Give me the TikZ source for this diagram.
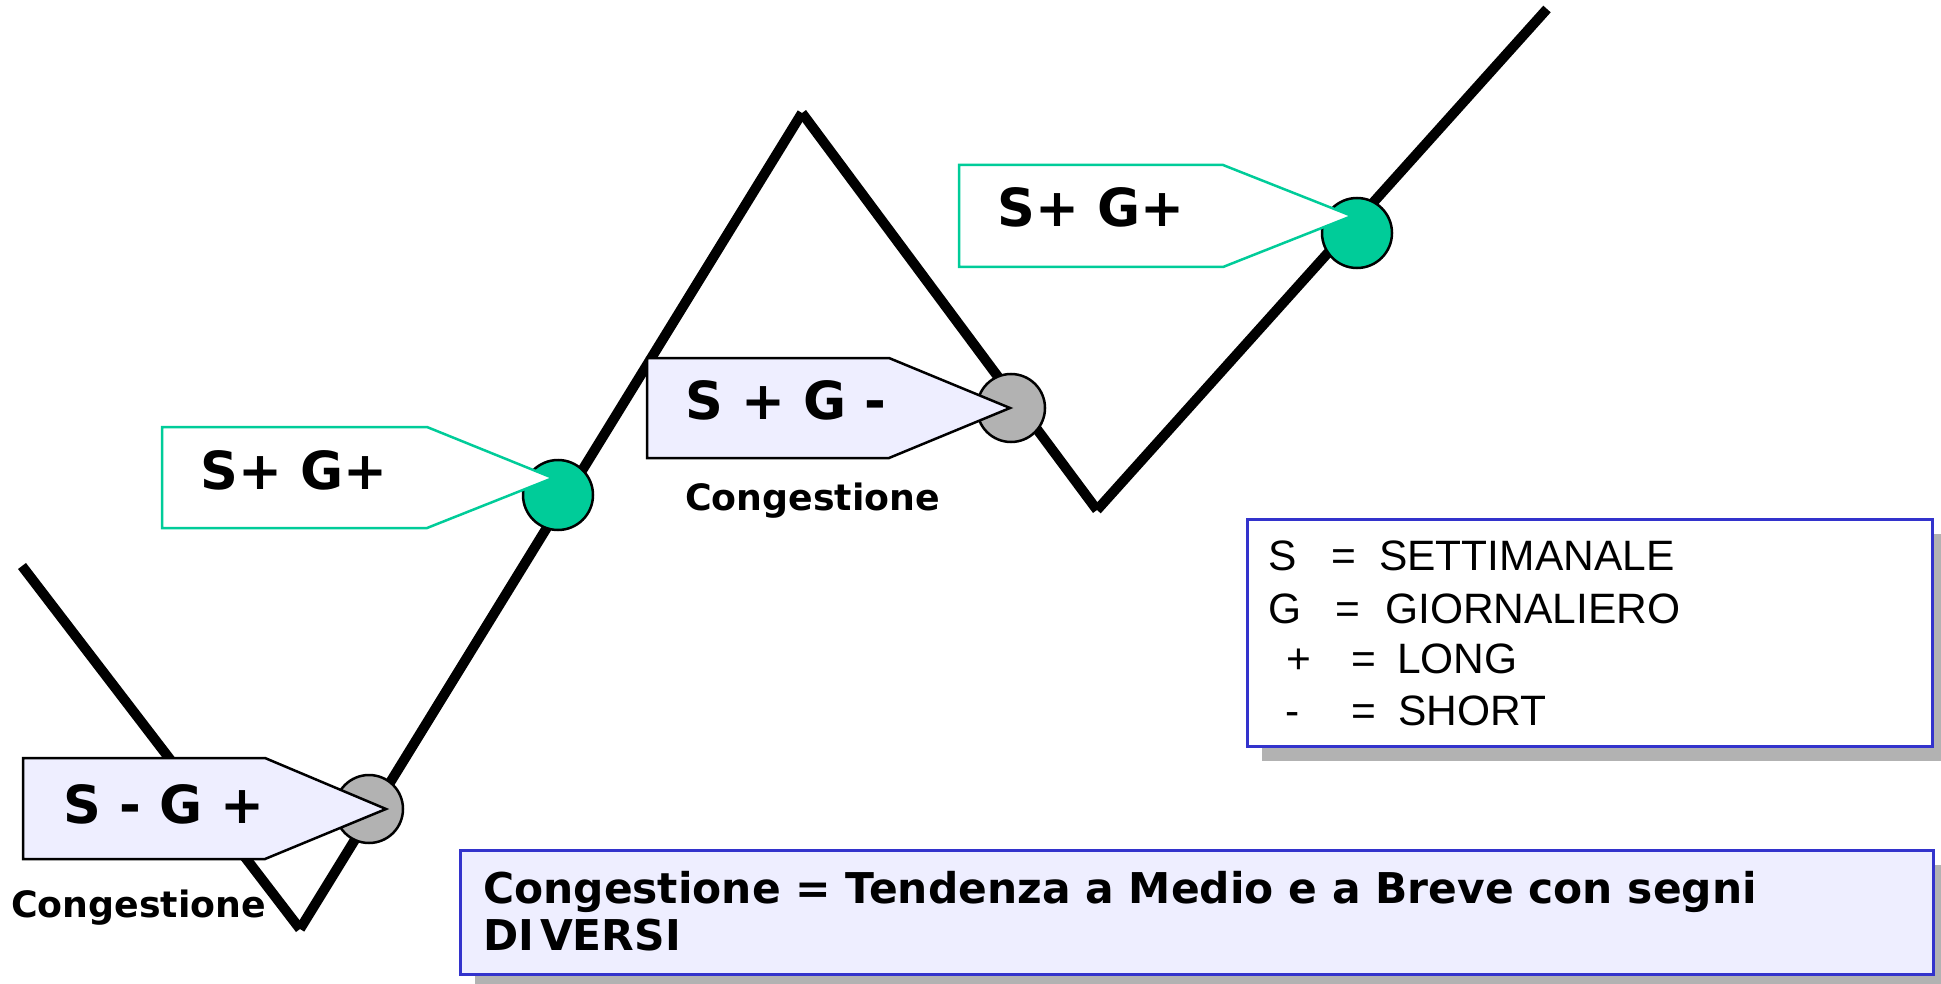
\documentclass[tikz,border=0pt]{standalone}
\usepackage{fontspec}
\setmainfont{Liberation Sans}
\newfontfamily\verdfont{DejaVu Sans}
\usepackage{xcolor}
\usepackage{tikz}
\usetikzlibrary{shadows,positioning}

\definecolor{markgreen}{RGB}{0,204,153}
\definecolor{markgray}{RGB}{178,178,178}
\definecolor{palelilac}{RGB}{238,238,255}
\definecolor{noteblue}{RGB}{51,51,204}

\begin{document}
\begin{tikzpicture}[x=1pt, y=-1pt,
    trend/.style={line width=10pt},
    dotgray/.style={circle, draw, line width=2.5pt, fill=markgray, minimum size=68pt, inner sep=0pt},
    dotgreen/.style={dotgray, fill=markgreen, minimum size=70pt},
    tagpale/.style={draw, line width=2.5pt, fill=palelilac},
    taggreen/.style={draw=markgreen, line width=2.5pt, fill=white},
    tagtext/.style={font=\verdfont\bfseries\fontsize{52.5}{60}\selectfont, inner sep=0pt, anchor=base west},
    congest/.style={font=\verdfont\bfseries\fontsize{36.3}{42}\selectfont, inner sep=0pt, anchor=base west},
    notebox/.style={draw=noteblue, line width=2.5pt, inner sep=0pt, anchor=north west,
        drop shadow={shadow xshift=15pt, shadow yshift=-15pt, fill=markgray, opacity=1}},
    legendtxt/.style={font=\fontsize{42.5}{50}\selectfont, inner sep=0pt, anchor=base west},
    notetxt/.style={font=\verdfont\bfseries\fontsize{42.4}{50}\selectfont, inner sep=0pt, anchor=base west}
]
    \useasboundingbox (0,0) rectangle (1941,984);

    % price path
    \coordinate (p1) at (22,566);
    \coordinate (p2) at (300,929);
    \coordinate (p3) at (802,113);
    \coordinate (p4) at (1097,510);
    \coordinate (p5) at (1547,9);
    \foreach \a/\b in {p1/p2,p2/p3,p3/p4,p4/p5}
        \draw[trend] (\a) -- (\b);

    % congestion points
    \node[dotgray] (dot1) at (369,809) {};
    \node[dotgray] (dot2) at (1011,408) {};
    \draw[tagpale] (23,758) -- (265,758) -- (386,809) -- (265,859) -- (23,859) -- cycle;
    \draw[tagpale] (647,358) -- (889,358) -- (1010,408) -- (889,458) -- (647,458) -- cycle;

    % trend points
    \node[dotgreen] (dot3) at (558,495) {};
    \node[dotgreen] (dot4) at (1357,233) {};
    \draw[taggreen] (162,427) -- (427,427) -- (553,478) -- (427,528) -- (162,528) -- cycle;
    \draw[taggreen] (959,165) -- (1223,165) -- (1352,216) -- (1223,267) -- (959,267) -- cycle;

    \node[tagtext] (tag1) at (63,823) {S - G +};
    \node[tagtext] (tag2) at (685,419) {S + G -};
    \node[tagtext] (tag3) at (200,489) {S+ G+};
    \node[tagtext] (tag4) at (997,227) {S+ G+};

    \node[congest] (cong1) at (11,917) {Congestione};
    \node[congest] (cong2) at (685,510) {Congestione};

    % legend
    \node[notebox, fill=white, minimum width=685pt, minimum height=227pt] (legend) at (1246,518) {};
    \foreach \sym/\symx/\eqx/\word/\wordx/\y [count=\i] in
        {S/1268/1331/SETTIMANALE/1379/570, G/1268/1335/GIORNALIERO/1385/623,
         +/1286/1351/LONG/1397/673, -/1285/1351/SHORT/1398/725} {
        \node[legendtxt] (sym\i) at (\symx,\y) {\sym};
        \node[legendtxt] (eq\i) at (\eqx,\y) {=};
        \node[legendtxt] (word\i) at (\wordx,\y) {\word};
    }

    % note
    \node[notebox, fill=palelilac, minimum width=1473pt, minimum height=124pt] (note) at (459,849) {};
    \node[notetxt] (note1) at (483,903) {Congestione = Tendenza a Medio e a Breve con segni};
    \node[notetxt] (note2) at (483,950) {DI\hspace{6pt}VERSI};
\end{tikzpicture}
\end{document}
